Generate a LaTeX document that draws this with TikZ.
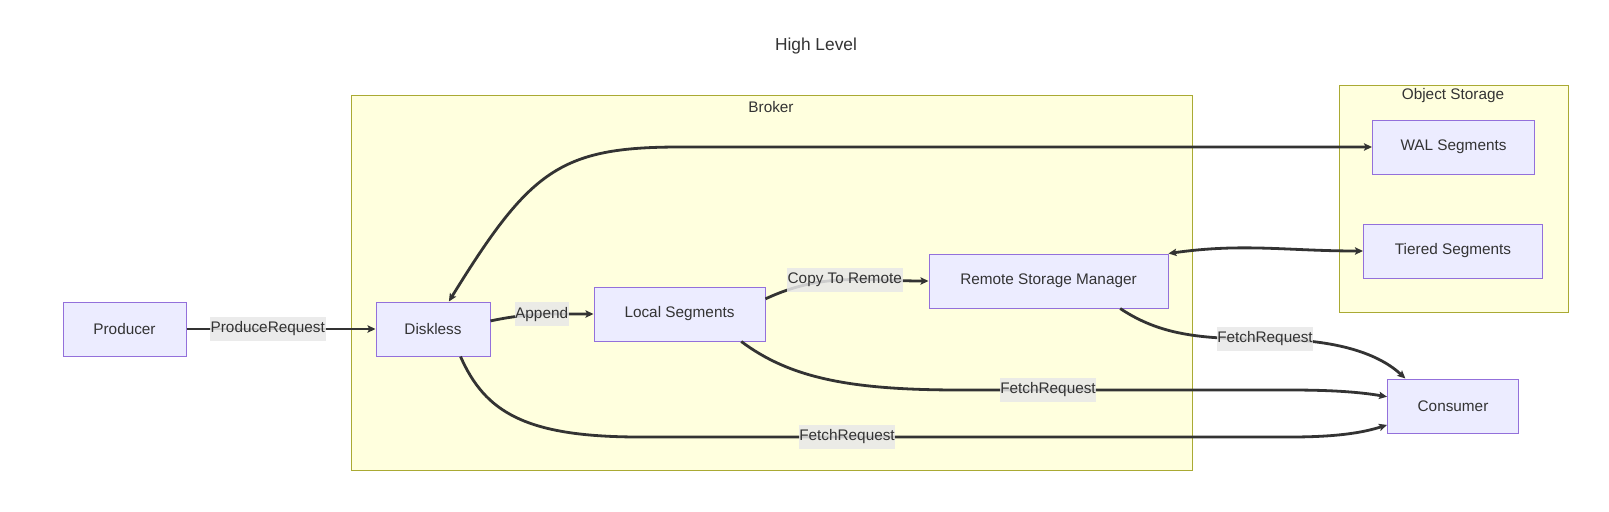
\documentclass[tikz,border=0pt]{standalone}
\usepackage{fontspec}
\setmainfont{Liberation Sans}
\usepackage{xcolor}
\usetikzlibrary{arrows.meta}
\definecolor{nodefill}{HTML}{ECECFF}
\definecolor{nodeline}{HTML}{9370DB}
\definecolor{groupfill}{HTML}{FFFFDE}
\definecolor{groupline}{HTML}{AAAA33}
\definecolor{labelfill}{HTML}{E8E8E8}
\definecolor{ink}{HTML}{333333}

\begin{document}
\begin{tikzpicture}[x=0.75pt, y=-0.75pt,
        >={Stealth[length=6pt, width=5.5pt, inset=1.2pt]},
        txt/.style={text=ink, font=\fontsize{11.5}{13}\selectfont},
        box/.style={txt, rectangle, draw=nodeline, fill=nodefill, line width=0.75pt,
                    minimum height=40.5pt},
        group/.style={rectangle, draw=groupline, fill=groupfill, line width=0.75pt},
        lbl/.style={txt, fill=labelfill, fill opacity=0.85, text opacity=1,
                    inner xsep=0.5pt, inner ysep=0pt, minimum height=18pt},
        flow/.style={draw=ink, line width=2.1pt, ->},
        both/.style={draw=ink, line width=2.1pt, <->}
      ]
        \useasboundingbox (0,0) rectangle (1609,511);
        \node[txt, font=\fontsize{13}{15}\selectfont] (title) at (816,46) {High Level};

        % subgraphs
        \node[group, minimum width=630.75pt, minimum height=281.25pt] (broker) at (771.5,282.5) {};
        \node[group, minimum width=171.75pt, minimum height=170.25pt] (objstore) at (1453.5,198.5) {};
        \node[txt] (brokername) at (771,107) {Broker};
        \node[txt] (objstorename) at (1453,96) {Object Storage};

        \node[box, minimum width=92.25pt] (producer) at (124.5,329) {Producer};
        \node[box, minimum width=85.5pt] (diskless) at (433,329) {Diskless};
        \node[box, minimum width=128.25pt] (local) at (679.5,314) {Local Segments};
        \node[box, minimum width=179.25pt] (rsm) at (1048.5,281) {Remote Storage Manager};
        \node[box, minimum width=121.5pt] (wal) at (1453.5,147) {WAL Segments};
        \node[box, minimum width=134.25pt] (tiered) at (1453,251) {Tiered Segments};
        \node[box, minimum width=98.25pt] (consumer) at (1453,406) {Consumer};

        \draw[flow] (producer) -- (diskless) node[lbl, pos=0.43] {ProduceRequest};
        \draw[flow] (diskless.8) to[out=12, in=180] node[lbl] {Append} (local.west);
        \draw[flow] (local.10) to[out=25, in=180] node[lbl] {Copy To Remote} (rsm.west);
        \draw[both] (diskless.60) .. controls (530,170) and (560,147) .. (680,147) -- (wal.west);
        \draw[both] (rsm.north east) to[out=8, in=180] (tiered.west);
        \draw[flow] (rsm.-21) .. controls (1160,335) and (1200,339) .. (1265,339)
          node[lbl] {FetchRequest} .. controls (1340,339) and (1380,355) .. (consumer.150);
        \draw[flow] (local.-24) .. controls (790,378) and (850,390) .. (960,390) -- (1048,390)
          node[lbl] {FetchRequest} -- (1290,390) .. controls (1340,390) and (1365,393) .. (consumer.172);
        \draw[flow] (diskless.-45) .. controls (485,412) and (525,437) .. (640,437) -- (847,437)
          node[lbl] {FetchRequest} -- (1290,437) .. controls (1340,437) and (1365,432) .. (consumer.196);
      \end{tikzpicture}
\end{document}
